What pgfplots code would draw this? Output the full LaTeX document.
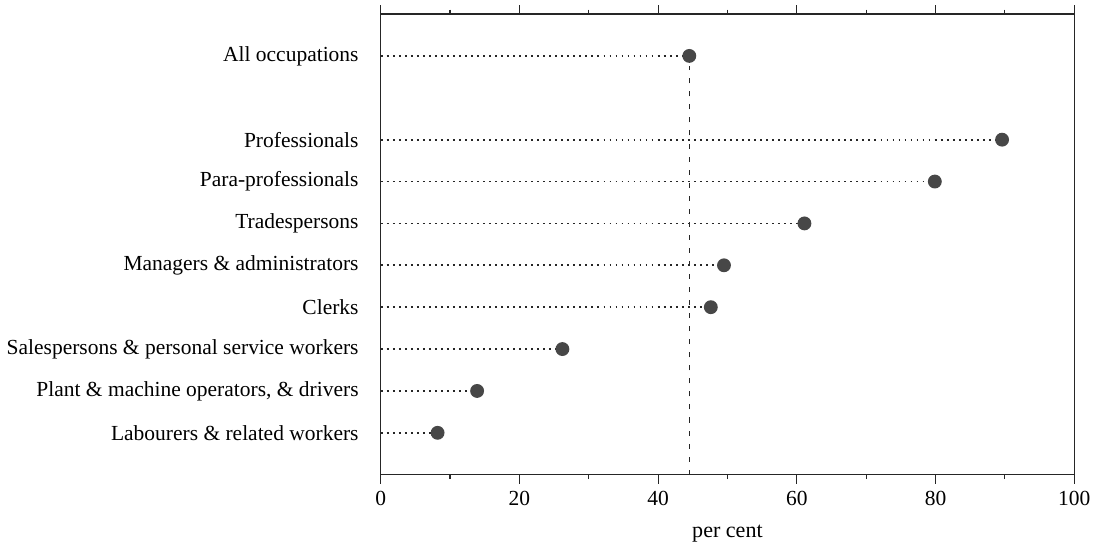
\documentclass[border=0pt]{standalone}
\usepackage{fontspec}
\setmainfont{Liberation Serif}
\usepackage{pgfplots}
\pgfplotsset{compat=1.18}
\begin{document}
\begin{tikzpicture}[x=1pt,y=1pt]
\begin{axis}[
  name=ax,
  scale only axis,
  width=345.5pt, height=229.5pt,
  xmin=0, xmax=100, ymin=0, ymax=11,
  xtick={0,20,...,100},
  minor xtick={10,30,...,90},
  tick align=outside,
  major tick length=4.5pt,
  minor tick length=2.2pt,
  xtick pos=both,
  ytick={1,2,3,4,5,6,7,8,10},
  yticklabels={{Labourers \& related workers},
    {Plant \& machine operators, \& drivers},
    {Salespersons \& personal service workers},
    {Clerks}, {Managers \& administrators}, {Tradespersons},
    {Para-professionals}, {Professionals}, {All occupations}},
  ytick style={draw=none},
  yticklabel style={font=\fontsize{10.7}{12}\selectfont, xshift=-3pt},
  xticklabel style={font=\fontsize{10.7}{12}\selectfont},
  /pgf/number format/assume math mode=true,
  xlabel={per cent},
  xlabel style={font=\fontsize{11}{12}\selectfont, yshift=-3pt},
  axis line style={line width=0.7pt, black!85},
  every tick/.style={black!85, line width=0.6pt},
  clip=false,
]
\addplot[xcomb, black!85, line width=0.9pt, dash pattern=on 0.9pt off 2.1pt,
  mark=*, mark size=3pt, mark options={solid, fill=black!72, draw=black!72}]
  coordinates {
  (44.5,10)
  (89.6,8)
  (79.9,7)
  (61.1,6)
  (49.5,5)
  (47.6,4)
  (26.2,3)
  (13.9,2)
  (8.2,1)
};
\addplot[black!85, line width=0.8pt, dash pattern=on 2.5pt off 4pt]
  coordinates {(44.5,0) (44.5,9.75)};
\path (rel axis cs:0,1) ++(0,7pt);
\end{axis}
\path (ax.west) ++(-1.5pt,0);
\end{tikzpicture}
\end{document}
